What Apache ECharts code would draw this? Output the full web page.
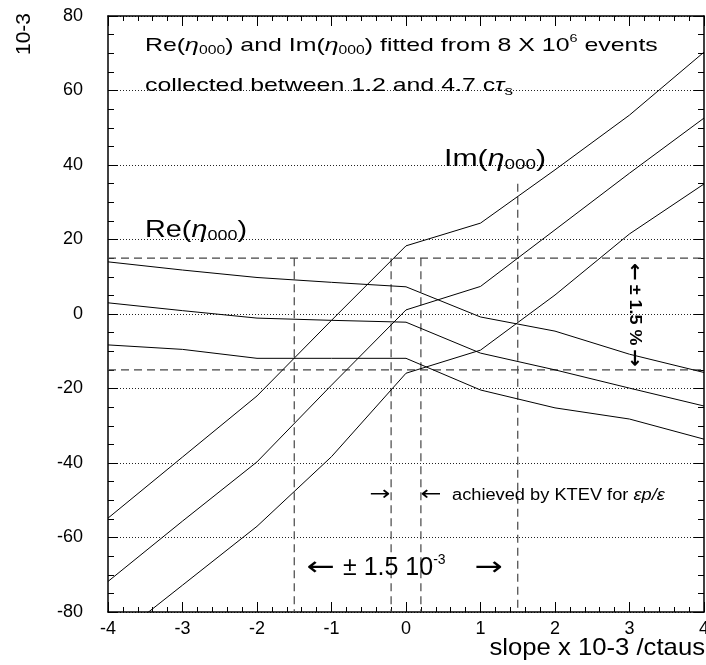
<!DOCTYPE html>
<html>
<head>
<meta charset="utf-8">
<script src="https://cdn.jsdelivr.net/npm/echarts@6/dist/echarts.min.js"></script>
<style>html,body{margin:0;padding:0;background:#fff;overflow:hidden}#c{width:706px;height:665px}</style>
</head>
<body>
<div id="c"></div>
<script>
// ---- data ----
const slopes = [-4, -3, -2, -1, 0, 1, 2, 3, 4];
const reTop = [14.0, 11.8, 9.8, 8.5, 7.3, -0.8, -4.6, -10.8, -15.7];
const reMid = [3.0, 0.9, -1.1, -1.7, -2.2, -10.5, -15.0, -19.9, -24.7];
const reBot = [-8.3, -9.5, -11.9, -11.9, -11.9, -20.4, -25.2, -28.2, -33.6];
const imTop = [-54.8, -38.4, -22.0, -1.7, 18.3, 24.4, 38.7, 53.4, 70.3];
const imMid = [-71.8, -55.6, -39.7, -19.1, 1.1, 7.4, 22.6, 37.8, 52.6];
const imBot = [-88.6, -72.8, -57.0, -38.3, -15.9, -9.7, 5.1, 21.5, 34.9];
const bandY = [15, -15];
const windowX = [-1.5, -0.2, 0.2, 1.5];
const windowTop = [15, 15, 15, 35];
const xTicks = [-4, -3, -2, -1, 0, 1, 2, 3, 4];
const yTicks = [-80, -60, -40, -20, 0, 20, 40, 60, 80];

const FONT = "'Liberation Sans', Arial, sans-serif";
const AFONT = "'DejaVu Sans', sans-serif";
const chart = echarts.init(document.getElementById('c'), null, {renderer: 'canvas'});

function pairs(xs, ys) { return xs.map((x, i) => [x, ys[i]]); }

const curveSeries = [reTop, reMid, reBot, imTop, imMid, imBot].map(v => ({
  type: 'line', data: pairs(slopes, v), symbol: 'none', clip: true, silent: true,
  lineStyle: {color: '#000', width: 1}, z: 3
}));

const dashStyle = {color: '#444', width: 1.2, type: [8, 5]};
const bandSeries = bandY.map(y => ({
  type: 'line', data: [[xTicks[0], y], [xTicks[xTicks.length - 1], y]], symbol: 'none', silent: true,
  lineStyle: dashStyle, z: 2
}));
const windowSeries = windowX.map((x, i) => ({
  type: 'line', data: [[x, windowTop[i]], [x, yTicks[0]]], symbol: 'none', silent: true,
  lineStyle: dashStyle, z: 2
}));

const axisLine = {show: true, onZero: false, lineStyle: {color: '#000', width: 1.5}};
const tick = {show: true, inside: true, length: 10, lineStyle: {color: '#000', width: 1}};
const xMinor = {show: true, splitNumber: 5, length: 5, lineStyle: {color: '#000', width: 1}};
const yMinor = {show: true, splitNumber: 4, length: 6, lineStyle: {color: '#000', width: 1}};
const lab = (m) => ({show: true, color: '#000', fontSize: 18, fontFamily: FONT, margin: m});

const opt = {
  animation: false,
  backgroundColor: '#fff',
  grid: {left: 108, right: 2, top: 16, bottom: 53, containLabel: false, outerBoundsMode: 'none'},
  xAxis: [
    {type: 'value', min: xTicks[0], max: xTicks[xTicks.length - 1], interval: 1, position: 'bottom',
     axisLine, axisTick: tick, minorTick: xMinor, splitLine: {show: false}, axisLabel: lab(8)},
    {type: 'value', min: xTicks[0], max: xTicks[xTicks.length - 1], interval: 1, position: 'top',
     axisLine, axisTick: tick, minorTick: xMinor, splitLine: {show: false}, axisLabel: {show: false}}
  ],
  yAxis: [
    {type: 'value', min: yTicks[0], max: yTicks[yTicks.length - 1], interval: 20, position: 'left',
     axisLine, axisTick: tick, minorTick: yMinor, axisLabel: lab(25),
     splitLine: {show: true, lineStyle: {color: '#222', width: 1, type: [1, 2]}}},
    {type: 'value', min: yTicks[0], max: yTicks[yTicks.length - 1], interval: 20, position: 'right',
     axisLine, axisTick: tick, minorTick: yMinor, splitLine: {show: false}, axisLabel: {show: false}}
  ],
  series: curveSeries.concat(bandSeries, windowSeries),
  graphic: [
    {type: 'text', x: 145, y: 46, scaleX: 1.31, z: 10, style: {
      text: '{t|Re(}{g|η}{s|000}{t|) and Im(}{g|η}{s|000}{t|) fitted from 8 X 10}{p|6}{t| events}',
      align: 'left', verticalAlign: 'middle',
      rich: {
        t: {fontSize: 19, fontFamily: FONT, fill: '#000'},
        g: {fontSize: 19, fontFamily: FONT, fontStyle: 'italic', fill: '#000'},
        s: {fontSize: 12, fontFamily: FONT, fill: '#000', padding: [10, 0, 0, 0]},
        p: {fontSize: 11, fontFamily: FONT, fill: '#000', padding: [0, 0, 14, 0]}
      }}},
    {type: 'text', x: 145, y: 86, scaleX: 1.31, z: 10, style: {
      text: '{t|collected between 1.2 and 4.7 c}{g|τ}{s|s}',
      align: 'left', verticalAlign: 'middle',
      rich: {
        t: {fontSize: 19, fontFamily: FONT, fill: '#000'},
        g: {fontSize: 19, fontFamily: FONT, fontStyle: 'italic', fill: '#000'},
        s: {fontSize: 13, fontFamily: FONT, fill: '#000', padding: [10, 0, 0, 0]}
      }}},
    {type: 'text', x: 145, y: 230, scaleX: 1.2, z: 10, style: {
      text: '{t|Re(}{g|η}{s|000}{t|)}', align: 'left', verticalAlign: 'middle',
      rich: {
        t: {fontSize: 24, fontFamily: FONT, fill: '#000'},
        g: {fontSize: 24, fontFamily: FONT, fontStyle: 'italic', fill: '#000'},
        s: {fontSize: 15, fontFamily: FONT, fill: '#000', padding: [12, 0, 0, 0]}
      }}},
    {type: 'text', x: 444, y: 159, scaleX: 1.26, z: 10, style: {
      text: '{t|Im(}{g|η}{s|000}{t|)}', align: 'left', verticalAlign: 'middle',
      rich: {
        t: {fontSize: 24, fontFamily: FONT, fill: '#000'},
        g: {fontSize: 24, fontFamily: FONT, fontStyle: 'italic', fill: '#000'},
        s: {fontSize: 15, fontFamily: FONT, fill: '#000', padding: [12, 0, 0, 0]}
      }}},
    {type: 'text', x: 634, y: 315, rotation: -Math.PI / 2, scaleX: 1.12, z: 10, style: {
      text: '{a|←} {t|± 1.5 %} {a|→}', align: 'center', verticalAlign: 'middle',
      rich: {
        a: {fontSize: 19, fontFamily: AFONT, fontWeight: 'bold', fill: '#000'},
        t: {fontSize: 16, fontFamily: FONT, fontWeight: 'bold', fill: '#000'}
      }}},
    {type: 'text', x: 380, y: 495, scaleX: 1.25, z: 10, style: {
      text: '→', align: 'center', verticalAlign: 'middle', fontSize: 20, fontFamily: AFONT, fill: '#000'}},
    {type: 'text', x: 431, y: 495, scaleX: 1.25, z: 10, style: {
      text: '←', align: 'center', verticalAlign: 'middle', fontSize: 20, fontFamily: AFONT, fill: '#000'}},
    {type: 'text', x: 452, y: 496, scaleX: 1.14, z: 10, style: {
      text: '{t|achieved by KTEV for }{g|εp/ε}', align: 'left', verticalAlign: 'middle',
      rich: {
        t: {fontSize: 16, fontFamily: FONT, fill: '#000'},
        g: {fontSize: 16, fontFamily: FONT, fontStyle: 'italic', fill: '#000'}
      }}},
    {type: 'text', x: 321, y: 568, scaleX: 1.3, z: 10, style: {
      text: '←', align: 'center', verticalAlign: 'middle', fontSize: 26, fontFamily: AFONT, fill: '#000'}},
    {type: 'text', x: 343, y: 568, z: 10, style: {
      text: '{t|± 1.5 10}{p|-3}', align: 'left', verticalAlign: 'middle',
      rich: {
        t: {fontSize: 25, fontFamily: FONT, fill: '#000'},
        p: {fontSize: 14, fontFamily: FONT, fill: '#000', padding: [0, 0, 16, 0]}
      }}},
    {type: 'text', x: 489, y: 568, scaleX: 1.3, z: 10, style: {
      text: '→', align: 'center', verticalAlign: 'middle', fontSize: 26, fontFamily: AFONT, fill: '#000'}},
    {type: 'text', x: 24, y: 34, rotation: Math.PI / 2, z: 10, style: {
      text: '10-3', align: 'center', verticalAlign: 'middle', fontSize: 21, fontFamily: FONT, fill: '#000'}},
    {type: 'text', x: 705, y: 648, scaleX: 1.07, z: 10, style: {
      text: 'slope x 10-3 /ctaus', align: 'right', verticalAlign: 'middle', fontSize: 24, fontFamily: FONT, fill: '#000'}}
  ]
};
chart.setOption(opt);
</script>
</body>
</html>
